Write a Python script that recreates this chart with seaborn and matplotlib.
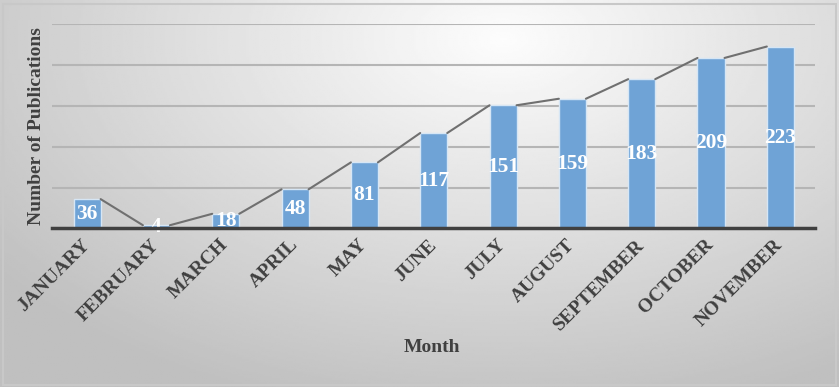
import numpy as np
import pandas as pd
import matplotlib
matplotlib.use('Agg')
import matplotlib.pyplot as plt
import seaborn as sns

months = ['JANUARY', 'FEBRUARY', 'MARCH', 'APRIL', 'MAY', 'JUNE', 'JULY',
          'AUGUST', 'SEPTEMBER', 'OCTOBER', 'NOVEMBER']
publications = [36, 4, 18, 48, 81, 117, 151, 159, 183, 209, 223]

df = pd.DataFrame({'Month': months, 'Number of Publications': publications})

sns.set_style('white')
plt.rcParams['font.family'] = ['Liberation Serif', 'DejaVu Serif']

fig = plt.figure(figsize=(8.39, 3.87), dpi=100)
fig.patch.set_facecolor('white')

# gradient background like the excel chart area
bg = fig.add_axes([0, 0, 1, 1], zorder=-10)
yy, xx = np.mgrid[0:1:200j, 0:1:400j]
r = np.sqrt(((xx - 0.6) * 1.3) ** 2 + ((yy - 0.1) * 1.0) ** 2)
shade = 0.99 - 0.24 * np.clip(r / 1.0, 0, 1)
bg.imshow(shade, cmap='gray', vmin=0, vmax=1, aspect='auto',
          extent=[0, 1, 0, 1], origin='upper')
bg.add_patch(plt.Rectangle((0.003, 0.005), 0.994, 0.985, fill=False,
                           edgecolor='#c8c8c8', lw=1.5, transform=bg.transAxes))
bg.set_xlim(0, 1)
bg.set_ylim(0, 1)
bg.axis('off')

ax = fig.add_axes([0.0625, 0.4096, 0.9089, 0.5271])
ax.set_facecolor('none')

bar_w = 0.39
sns.barplot(data=df, x='Month', y='Number of Publications', color='#6fa3d6',
            saturation=1, width=bar_w, edgecolor='#d6e6f5', linewidth=1, ax=ax, zorder=3)

# line between bar tops (right corner to next left corner)
for i in range(len(publications) - 1):
    ax.plot([i + bar_w / 2, i + 1 - bar_w / 2],
            [publications[i], publications[i + 1]],
            color='#707070', lw=1.5, zorder=4)

for i, v in enumerate(publications):
    ax.text(i, v / 2, str(v), ha='center', va='center', color='white',
            fontsize=15.5, fontweight='bold', zorder=5)

ax.set_ylim(0, 250)
ax.set_xlim(-0.5, len(months) - 0.5)
ax.set_yticks([50, 100, 150, 200, 250])
ax.set_yticklabels([])
ax.yaxis.grid(True, color='#b5b5b5', lw=1.5, zorder=0)
ax.tick_params(axis='both', length=0)

for s in ['top', 'right', 'left']:
    ax.spines[s].set_visible(False)
ax.spines['bottom'].set_color('#404040')
ax.spines['bottom'].set_linewidth(2.5)
ax.spines['bottom'].set_zorder(6)

ax.set_xticks(range(len(months)))
ax.set_xticklabels(months, rotation=45, ha='right', va='center',
                   rotation_mode='anchor', fontsize=14, fontweight='bold', color='#404040')
ax.tick_params(axis='x', pad=10)

ax.set_xlabel('')
ax.set_ylabel('')
fig.text(0.515, 0.103, 'Month', ha='center', va='center', fontsize=14,
         fontweight='bold', color='#404040')
fig.text(0.043, 0.674, 'Number of Publications', ha='center', va='center', rotation=90,
         fontsize=14, fontweight='bold', color='#404040')

plt.savefig('out.png', dpi=100)
